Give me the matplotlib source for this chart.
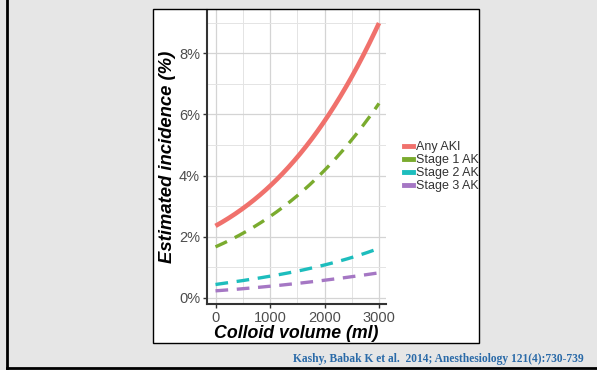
import numpy as np
import matplotlib.pyplot as plt
from matplotlib.patches import Rectangle
from matplotlib.lines import Line2D

plt.rcParams['font.family'] = ['Liberation Sans', 'DejaVu Sans']

# colloid volume (ml) and estimated incidence (%)
volume = [0, 500, 1000, 1500, 2000, 2500, 3000]
any_aki = [2.35, 2.93, 3.64, 4.62, 5.76, 7.24, 8.98]
stage1 = [1.67, 2.10, 2.67, 3.33, 4.18, 5.16, 6.36]
stage2 = [0.44, 0.56, 0.71, 0.88, 1.07, 1.32, 1.62]
stage3 = [0.23, 0.30, 0.38, 0.47, 0.58, 0.69, 0.82]

labels = ["Any AKI", "Stage 1 AKI", "Stage 2 AKI", "Stage 3 AKI"]
colors = ["#F0716C", "#7AAB2E", "#1DBDBD", "#A577C4"]
series = [any_aki, stage1, stage2, stage3]

W, H = 597, 370
fig = plt.figure(figsize=(W / 100, H / 100), dpi=100)
fig.patch.set_facecolor("#e6e6e6")

def fx(px):
    return px / W

def fy(py):
    return 1 - py / H

# panel edges in pixels
bx0, bx1, by0, by1 = 153, 479, 9, 343

fig.patches.append(Rectangle((fx(bx0), fy(by1)), fx(bx1) - fx(bx0), fy(by0) - fy(by1),
                             transform=fig.transFigure, facecolor="white",
                             edgecolor="none", zorder=-1))

ax = fig.add_axes([fx(207), fy(304), fx(386) - fx(207), fy(10) - fy(304)])
ax.set_zorder(1)
ax.set_facecolor("white")

# smooth curves through the read-off points
vsmooth = np.linspace(0, 3000, 200)
for i, (vals, c) in enumerate(zip(series, colors)):
    ys = np.polyval(np.polyfit(volume, vals, 3), vsmooth)
    if i == 0:
        ax.plot(vsmooth, ys, color=c, lw=3.3, solid_capstyle="butt")
    else:
        ax.plot(vsmooth, ys, color=c, lw=2.4, dashes=(3.8, 2.6))

ax.set_xlim(-156, 3128)
ax.set_ylim(-0.2, 9.41)
ax.set_xticks([0, 1000, 2000, 3000])
ax.set_xticks([500, 1500, 2500], minor=True)
ax.set_yticks([0, 2, 4, 6, 8])
ax.set_yticks([1, 3, 5, 7, 9], minor=True)
ax.set_yticklabels(["0%", "2%", "4%", "6%", "8%"])
ax.grid(True, which="major", color="#d4d4d4", lw=0.9)
ax.grid(True, which="minor", color="#e4e4e4", lw=0.7)
ax.set_axisbelow(True)
ax.tick_params(which="minor", length=0)
ax.tick_params(which="major", length=3, width=1, color="#333333",
               labelsize=10.5, labelcolor="#4d4d4d", pad=2)
for s in ["top", "right"]:
    ax.spines[s].set_visible(False)
for s in ["left", "bottom"]:
    ax.spines[s].set_color("#333333")
    ax.spines[s].set_linewidth(1.5)

ax.set_xlabel("Colloid volume (ml)", fontsize=12.8, fontweight="bold",
              fontstyle="italic", labelpad=0)
ax.set_ylabel("Estimated incidence (%)", fontsize=13.3, fontweight="bold",
              fontstyle="italic", labelpad=2)

handles = [Line2D([], [], color=c, lw=3.5) for c in colors]
leg = fig.legend(handles, labels, loc="upper left",
                 bbox_to_anchor=(fx(399), fy(136)), frameon=False,
                 fontsize=9, handlelength=0.75, handletextpad=0.25,
                 labelspacing=0.08, borderaxespad=0)
leg.set_zorder(5)
for t in leg.get_texts():
    t.set_color("#333333")

# cover legend overflow to the right of the panel, then panel border
fig.patches.append(Rectangle((fx(bx1), fy(by1)), 1 - fx(bx1), fy(by0) - fy(by1),
                             transform=fig.transFigure, facecolor="#e6e6e6",
                             edgecolor="none", zorder=10))
fig.patches.append(Rectangle((fx(bx0), fy(by1)), fx(bx1) - fx(bx0), fy(by0) - fy(by1),
                             transform=fig.transFigure, facecolor="none",
                             edgecolor="black", lw=1, zorder=11))

# slide frame lines
fig.lines.append(Line2D([fx(7), fx(7)], [fy(0), fy(368)], transform=fig.transFigure,
                        color="black", lw=2))
fig.lines.append(Line2D([fx(7), 1], [fy(368), fy(368)], transform=fig.transFigure,
                        color="black", lw=2))

fig.text(fx(584), fy(359), "Kashy, Babak K et al.  2014; Anesthesiology 121(4):730-739",
         ha="right", va="center", fontsize=8.3, fontweight="bold",
         family="Liberation Serif", color="#2a6aa8")

fig.savefig("out.png", dpi=100, facecolor=fig.get_facecolor())
